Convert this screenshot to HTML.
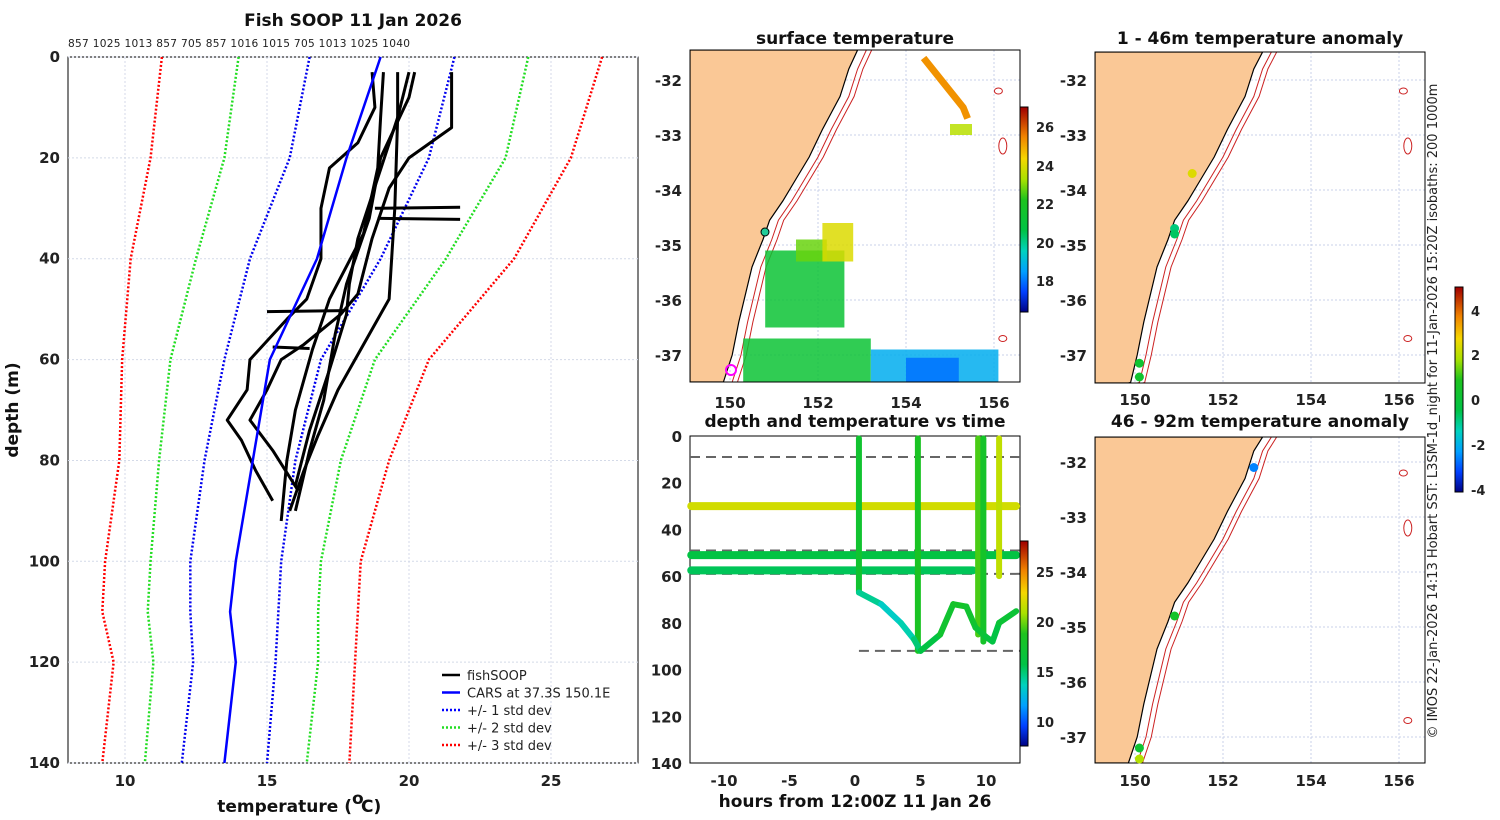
<!DOCTYPE html>
<html><head><meta charset="utf-8"><style>
html,body{margin:0;width:1500px;height:820px;overflow:hidden;background:#fff;font-family:"Liberation Sans","DejaVu Sans",sans-serif}
svg{display:block}
text{font-family:"DejaVu Sans","Liberation Sans",sans-serif}
.tk{font-size:15px;font-weight:bold;fill:#222}
.tt{font-size:17px;font-weight:bold;fill:#111}
</style></head><body>
<svg id="fig" width="1500" height="820" viewBox="0 0 1500 820" xmlns="http://www.w3.org/2000/svg">
<g id="g"></g>
</svg>
<script>
// ---------- data ----------
const profDepths=[0,20,40,60,80,100,110,120,140];
const carsT=[19.0,17.8,16.76,15.1,14.5,13.9,13.7,13.9,13.5];
const sd1Lo=[16.5,15.8,14.4,13.5,12.8,12.3,12.3,12.4,12.0];
const sd1Hi=[21.6,20.7,19.0,16.9,16.0,15.5,15.4,15.3,15.0];
const sd2Lo=[14.0,13.5,12.5,11.6,11.2,10.9,10.8,11.0,10.7];
const sd2Hi=[24.2,23.4,21.3,18.8,17.6,16.9,16.8,16.8,16.4];
const sd3Lo=[11.3,10.9,10.2,9.9,9.8,9.3,9.2,9.6,9.2];
const sd3Hi=[26.8,25.7,23.7,20.7,19.3,18.3,18.2,18.1,17.9];
const casts=[
 [[19.1,3],[19.0,12],[18.9,22],[18.4,35],[17.2,48],[16.6,58],[16.0,70],[15.7,80],[15.5,92]],
 [[18.7,3],[18.8,10],[18.2,17],[17.2,22],[16.9,30],[16.9,40],[16.4,48],[15.7,52],[14.4,60],[14.3,66],[13.6,72],[14.1,76],[14.6,82],[15.2,88]],
 [[20.2,3],[20.0,8],[19.0,20],[18.6,32],[17.8,45],[17.4,55],[17.0,68],[16.5,78],[16.0,90]],
 [[21.5,3],[21.5,14],[20.0,20],[19.3,26],[18.7,36],[18.2,47],[17.6,51],[16.3,57],[15.5,60],[15.0,66],[14.4,72],[15.2,78],[16.1,86]],
 [[19.6,3],[19.6,12],[19.5,30],[19.3,48],[18.3,58],[17.5,66],[16.8,75],[16.3,82],[15.8,90]],
 [[20.0,3],[19.6,12],[18.9,24],[18.2,36],[17.9,45],[17.8,51],[17.2,62],[16.5,74],[16.0,85]],
 [[18.8,30],[21.8,29.8]],[[18.9,32],[21.8,32.2]],[[15,50.5],[17.7,50.3]],[[15.2,57.5],[16.5,57.8]]
];
const topLabels=["857","1025","1013","857","705","857","1016","1015","705","1013","1025","1040"];
// SST patches [lon0,lat0,lon1,lat1,temp]
const sstPatches=[[150.8,-35.1,152.6,-36.5,21.3],[151.5,-34.9,152.2,-35.3,22.8],[152.1,-34.6,152.8,-35.3,24],
 [150.3,-36.7,153.2,-37.5,21.3],[153.2,-36.9,156.1,-37.5,18.8],[154.0,-37.05,155.2,-37.5,18.0],[155.0,-32.8,155.5,-33.0,23.5]];
const stripLon=[154.4,154.7,155.0,155.3,155.4];
const stripLat=[-31.6,-31.9,-32.2,-32.5,-32.7];
// depth-time
const bandDepths=[30,51,57.5];const bandTemps=[22,16,15.5];const bandEnd=[12.3,12.3,9];
const castHours=[0.3,4.8,9.4,9.8,11];const castBottoms=[67,92,85,88,60];const castTemps=[17.5,18.5,19.5,18,21.5];
const curveH=[0.3,2,3.5,4.5,5,6.5,7.5,8.5,9.2,10,10.5,11,12.3];
const curveD=[67,72,80,87,92,85,72,73,82,86,88,80,75];
const curveT=[14.5,13.5,14,15,16,17.5,18,17.5,17,16.5,16,17,17];
const dashDepths=[9,49,59,92];
// anomaly points [lon,lat,anom]
const anomTop=[[150.9,-34.7,-0.8],[150.9,-34.8,-0.6],[151.3,-33.7,2.5],[150.1,-37.15,0.3],[150.1,-37.4,0.4]];
const anomBot=[[152.7,-32.1,-2.5],[150.9,-34.8,0.6],[150.1,-37.2,0.3],[150.1,-37.4,2]];

// ---------- helpers ----------
const NS="http://www.w3.org/2000/svg";const G=document.getElementById('g');
function el(t,a,p){const e=document.createElementNS(NS,t);for(const k in a)e.setAttribute(k,a[k]);(p||G).appendChild(e);return e;}
function txt(x,y,s,cls,anchor,extra){const e=el('text',Object.assign({x:x,y:y,'class':cls||'tk','text-anchor':anchor||'middle'},extra||{}));e.textContent=s;return e;}
const cmStops=[[0,[0,0,128]],[0.1,[0,64,255]],[0.2,[0,160,255]],[0.3,[0,210,190]],[0.4,[0,195,70]],[0.55,[30,195,30]],[0.65,[170,225,0]],[0.75,[245,215,0]],[0.86,[240,130,0]],[1,[160,0,0]]];
function jet(v){v=Math.max(0,Math.min(1,v));for(let i=1;i<cmStops.length;i++){if(v<=cmStops[i][0]){const a=cmStops[i-1],b=cmStops[i],f=(v-a[0])/(b[0]-a[0]);const c=a[1].map((x,k)=>Math.round(x+(b[1][k]-x)*f));return `rgb(${c[0]},${c[1]},${c[2]})`;}}return 'rgb(160,0,0)';}

// ---------- left profile panel ----------
const tx=t=>125+(t-10)*28.4, dy=d=>57+d*5.043;
el('rect',{x:68,y:57,width:570,height:706,fill:'#fff',stroke:'#000'});
[10,15,20,25].forEach(t=>{el('line',{x1:tx(t),x2:tx(t),y1:57,y2:763,stroke:'#d4dae8','stroke-dasharray':'2,2'});txt(tx(t),786,String(t));});
[0,20,40,60,80,100,120,140].forEach(d=>{el('line',{x1:68,x2:638,y1:dy(d),y2:dy(d),stroke:'#d4dae8','stroke-dasharray':'2,2'});txt(60,dy(d)+5,String(d),'tk','end');});
txt(353,26,'Fish SOOP 11 Jan 2026','tt');
txt(352,812,'temperature (','tt','end');
txt(352,812,'o','tt','start',{'font-size':'11','dy':'-8'});
txt(361,812,'C)','tt','start');
txt(18,410,'depth (m)','tt','middle',{transform:'rotate(-90 18 410)'});
txt(68,47,topLabels.join(' '),'tk','start',{style:'font-size:10.6px;font-weight:normal','textLength':342});
function prof(arr,col,dash,w,name){const p=el('polyline',{points:arr.map((t,i)=>tx(t)+','+dy(profDepths[i])).join(' '),fill:'none',stroke:col,'stroke-width':w,'stroke-dasharray':dash||''});}
prof(sd3Lo,'#f00','2,2',2.5,'sd3-low');prof(sd3Hi,'#f00','2,2',2.5,'sd3-high');
prof(sd2Lo,'#2d2','2,2',2.5,'sd2-low');prof(sd2Hi,'#2d2','2,2',2.5,'sd2-high');
prof(sd1Lo,'#00e','2,2',2.5,'sd1-low');prof(sd1Hi,'#00e','2,2',2.5,'sd1-high');
casts.forEach(c=>{const p=el('polyline',{points:c.map(q=>tx(q[0])+','+dy(q[1])).join(' '),fill:'none',stroke:'#000','stroke-width':3,'stroke-linejoin':'round'});});
prof(carsT,'#00f','',2.5,'cars-profile');
const leg=[['#000','','fishSOOP'],['#00f','','CARS at 37.3S 150.1E'],['#00f','2,2','+/- 1 std dev'],['#2d2','2,2','+/- 2 std dev'],['#f00','2,2','+/- 3 std dev']];
leg.forEach((l,i)=>{const y=675+i*17.5;el('line',{x1:442,x2:460,y1:y,y2:y,stroke:l[0],'stroke-width':2.5,'stroke-dasharray':l[1]});txt(467,y+5,l[2],'tk','start',{style:'font-size:13px;font-weight:normal'});});

// ---------- map helper ----------
function mapPanel(x0,y0,x1,y1,lat32,name){
 const lx=lon=>730+(x0-690)+(lon-150)*44, ly=lat=>lat32+(-32-lat)*55;
 const g=el('g',{});
 el('clipPath',{id:'c'+name},g);el('rect',{x:x0,y:y0,width:x1-x0,height:y1-y0},g.lastChild);
 const inner=el('g',{'clip-path':`url(#c${name})`},g);
 el('rect',{x:x0,y:y0,width:x1-x0,height:y1-y0,fill:'#fff'},inner);
 [150,152,154,156].forEach(l=>el('line',{x1:lx(l),x2:lx(l),y1:y0,y2:y1,stroke:'#c8d0e8','stroke-dasharray':'2,2'},inner));
 [-32,-33,-34,-35,-36,-37].forEach(l=>el('line',{x1:x0,x2:x1,y1:ly(l),y2:ly(l),stroke:'#c8d0e8','stroke-dasharray':'2,2'},inner));
 const lat0=-32-(y0-lat32)/55, lat1=-32-(y1-lat32)/55;
 const coast=[[152.9,lat0],[152.84,-31.45],[152.7,-31.8],[152.5,-32.3],[152.3,-32.6],[152.1,-32.9],[151.8,-33.4],[151.5,-33.8],[151.2,-34.2],[150.9,-34.55],[150.75,-34.9],[150.5,-35.4],[150.35,-35.9],[150.2,-36.4],[150.05,-37.0],[149.9,-37.5],[149.85,lat1]].filter(c=>c[1]<=lat0&&c[1]>=lat1);
 const pts=coast.map(c=>lx(c[0])+','+ly(c[1]));
 el('polygon',{points:x0+','+y0+' '+pts.join(' ')+' '+x0+','+y1,fill:'#fac896',stroke:'#000','stroke-width':1.2},inner);
 [0.2,0.32].forEach(o=>el('polyline',{points:coast.map(c=>lx(c[0]+o)+','+ly(c[1])).join(' '),fill:'none',stroke:'#c22','stroke-width':1},inner));
 el('rect',{x:x0,y:y0,width:x1-x0,height:y1-y0,fill:'none',stroke:'#000'},g);
 return {lx,ly,inner,g};
}
function latTicks(x0,ly,lats){lats.forEach(l=>txt(x0-8,ly(l)+6,String(l),'tk','end'));}

// SST map
const m1=mapPanel(690,50,1020,382,80,'sst-map');
sstPatches.forEach(p=>{const r=el('rect',{x:m1.lx(p[0]),y:m1.ly(p[1]),width:m1.lx(p[2])-m1.lx(p[0]),height:m1.ly(p[3])-m1.ly(p[1]),fill:jet((p[4]-16.4)/10.6),opacity:0.85},m1.inner);});
const strip=el('polyline',{points:stripLon.map((l,i)=>m1.lx(l)+','+m1.ly(stripLat[i])).join(' '),fill:'none',stroke:jet((25.3-16.4)/10.6),'stroke-width':7},m1.inner);

latTicks(690,m1.ly,[-32,-33,-34,-35,-36,-37]);
[150,152,154,156].forEach(l=>txt(m1.lx(l),408,String(l)));
txt(855,44,'surface temperature','tt');
el('circle',{cx:731,cy:370,r:5,fill:'none',stroke:'#f0f','stroke-width':2},m1.g);
el('circle',{cx:765,cy:232,r:4,fill:'#2c9',stroke:'#000'},m1.g);
for(let i=0;i<205;i++)el('rect',{x:1020,y:107+i,width:8,height:1.2,fill:jet(1-i/205)});
el('rect',{x:1020,y:107,width:8,height:205,fill:'none',stroke:'#000'});
[[18,281],[20,243],[22,204],[24,166],[26,127]].forEach(t=>txt(1036,t[1]+5,String(t[0]),'tk','start',{style:'font-size:13px'}));

// anomaly maps
const m2=mapPanel(1095,52,1425,383,80,'anom-map-top');
const m3=mapPanel(1095,437,1425,763,462,'anom-map-bottom');
latTicks(1095,m2.ly,[-32,-33,-34,-35,-36,-37]);latTicks(1095,m3.ly,[-32,-33,-34,-35,-36,-37]);
[150,152,154,156].forEach(l=>{txt(m2.lx(l),405,String(l));txt(m3.lx(l),786,String(l));});
txt(1260,44,'1 - 46m temperature anomaly','tt');txt(1260,427,'46 - 92m temperature anomaly','tt');
[[m2,anomTop],[m3,anomBot]].forEach(([m,a])=>a.forEach(p=>{const c=el('circle',{cx:m.lx(p[0]),cy:m.ly(p[1]),r:4.5,fill:jet((p[2]+4.04)/9.11)},m.g);}));
[m1,m2,m3].forEach(m=>{[[156.1,-32.2],[156.2,-33.2],[156.2,-36.7]].forEach(q=>el('ellipse',{cx:m.lx(q[0]),cy:m.ly(q[1]),rx:4,ry:q[1]==-33.2?8:3,fill:'none',stroke:'#c22'},m.inner));});
for(let i=0;i<205;i++)el('rect',{x:1455,y:287+i,width:8,height:1.2,fill:jet(1-i/205)});
el('rect',{x:1455,y:287,width:8,height:205,fill:'none',stroke:'#000'});
[[4,311],[2,355],[0,400],[-2,445],[-4,490]].forEach(t=>txt(1471,t[1]+5,String(t[0]),'tk','start',{style:'font-size:13px'}));
txt(1437,411,'© IMOS 22-Jan-2026 14:13 Hobart SST: L3SM-1d_night for 11-Jan-2026 15:20Z isobaths: 200  1000m','tk','middle',{transform:'rotate(-90 1437 411)',style:'font-size:13px;font-weight:normal'});

// ---------- depth-time ----------
const hx=h=>855+h*13.1, ddy=d=>436+d*2.336;
el('rect',{x:690,y:436,width:330,height:327,fill:'#fff',stroke:'#000'});
[0,20,40,60,80,100,120,140].forEach(d=>txt(682,ddy(d)+6,String(d),'tk','end'));
[-10,-5,0,5,10].forEach(h=>txt(hx(h),786,String(h)));
txt(855,427,'depth and temperature vs time','tt');
txt(855,807,'hours from 12:00Z 11 Jan 26','tt');
const dtc=t=>jet((t-7.6)/20.5);
dashDepths.forEach((d,i)=>el('line',{x1:i==3?hx(0.3):690,x2:1020,y1:ddy(d),y2:ddy(d),stroke:'#666','stroke-width':2,'stroke-dasharray':'10,6'}));
bandDepths.forEach((d,i)=>{const r=el('line',{x1:hx(-12.5),x2:hx(bandEnd[i]),y1:ddy(d),y2:ddy(d),stroke:dtc(bandTemps[i]),'stroke-width':8,'stroke-linecap':'round'});});
castHours.forEach((h,i)=>{const r=el('line',{x1:hx(h),x2:hx(h),y1:ddy(1),y2:ddy(castBottoms[i]),stroke:dtc(castTemps[i]),'stroke-width':6,'stroke-linecap':'round'});});
for(let i=0;i<curveH.length-1;i++){const s=el('line',{x1:hx(curveH[i]),y1:ddy(curveD[i]),x2:hx(curveH[i+1]),y2:ddy(curveD[i+1]),stroke:dtc(curveT[i]),'stroke-width':6,'stroke-linecap':'round'});}
for(let i=0;i<205;i++)el('rect',{x:1020,y:541+i,width:8,height:1.2,fill:jet(1-i/205)});
el('rect',{x:1020,y:541,width:8,height:205,fill:'none',stroke:'#000'});
[[25,572],[20,622],[15,672],[10,722]].forEach(t=>txt(1036,t[1]+5,String(t[0]),'tk','start',{style:'font-size:13px'}));
</script>
</body></html>
